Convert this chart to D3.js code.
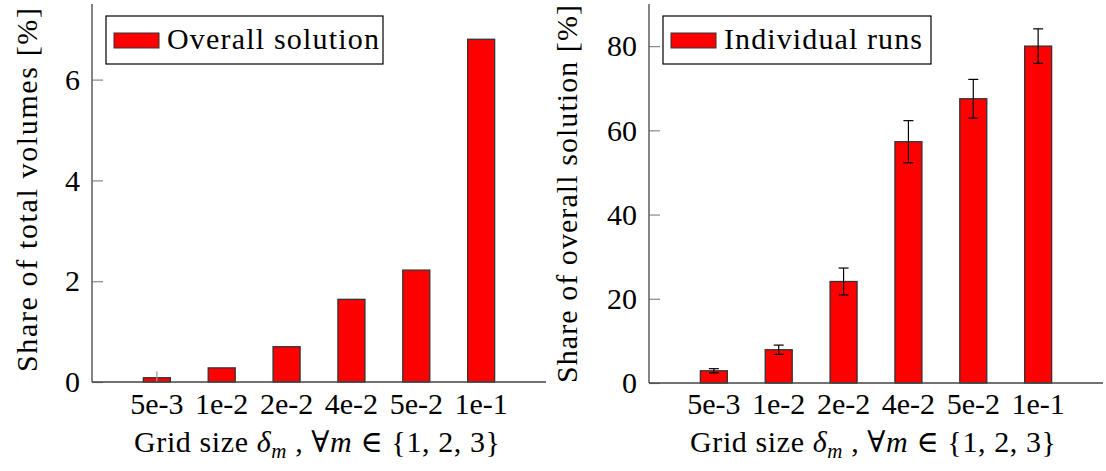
<!DOCTYPE html>
<html>
<head>
<meta charset="utf-8">
<script src="https://cdn.jsdelivr.net/npm/d3@7"></script>
<style>
  body { margin: 0; background: #fff; }
</style>
</head>
<body>
<div id="chart"></div>
<script>
// grid sizes on the x axis
const gridSizes = ["5e-3", "1e-2", "2e-2", "4e-2", "5e-2", "1e-1"];

// left panel: share of total volumes [%]
const volumeShare = [0.085, 0.28, 0.70, 1.64, 2.22, 6.80];
const volumeErr = [0.13, 0, 0, 0, 0, 0];
const volumeTicks = [0, 2, 4, 6];

// right panel: share of overall solution [%]
const runShare = [2.9, 7.9, 24.1, 57.3, 67.5, 80.0];
const runErr = [0.5, 1.1, 3.2, 5.0, 4.6, 4.1];
const runTicks = [0, 20, 40, 60, 80];

const W = 1106, H = 471;
const fs = "30px";
const serif = "'Liberation Serif', 'Times New Roman', Times, 'DejaVu Serif', serif";
const svg = d3.select("#chart").append("svg")
    .attr("width", W)
    .attr("height", H)
    .attr("font-family", serif);

function drawPanel(opt) {
    let g = svg.append("g");

    let x = d3.scaleLinear()
        .domain([0, gridSizes.length + 1])
        .range([opt.left, opt.right]);
    let y = d3.scaleLinear()
        .domain([0, opt.ymax])
        .range([opt.bottom, opt.top]);

    let barW = 27;

    // bars
    g.selectAll(".bar")
        .data(opt.values)
        .enter()
        .append("rect")
        .attr("class", "bar")
        .attr("x", (d, i) => x(i + 1) - barW / 2)
        .attr("y", d => y(d))
        .attr("width", barW)
        .attr("height", d => y(0) - y(d))
        .attr("fill", "#ff0000")
        .attr("stroke", "#333")
        .attr("stroke-width", 1.3);

    // error bars
    let eb = g.selectAll(".err")
        .data(opt.values.map((v, i) => ({v: v, e: opt.errors[i], i: i})).filter(d => d.e > 0))
        .enter()
        .append("g")
        .attr("class", "err")
        .attr("stroke", opt.errColor)
        .attr("stroke-width", 1.2);
    eb.append("line")
        .attr("x1", d => x(d.i + 1)).attr("x2", d => x(d.i + 1))
        .attr("y1", d => y(d.v + d.e)).attr("y2", d => y(Math.max(0, d.v - d.e)));
    if (opt.caps) {
        eb.append("line")
            .attr("x1", d => x(d.i + 1) - 5).attr("x2", d => x(d.i + 1) + 5)
            .attr("y1", d => y(d.v + d.e)).attr("y2", d => y(d.v + d.e));
        eb.append("line")
            .attr("x1", d => x(d.i + 1) - 5).attr("x2", d => x(d.i + 1) + 5)
            .attr("y1", d => y(d.v - d.e)).attr("y2", d => y(d.v - d.e));
    }

    // y axis, ticks pointing inward
    let yAxis = g.append("g")
        .attr("transform", "translate(" + opt.left + ",0)")
        .call(d3.axisRight(y).tickValues(opt.ticks).tickSize(11).tickFormat(""));
    yAxis.select(".domain").remove();
    yAxis.selectAll(".tick line").attr("stroke", "#888").attr("stroke-width", 1.2);

    g.selectAll(".ylab")
        .data(opt.ticks)
        .enter()
        .append("text")
        .attr("x", opt.left - 12)
        .attr("y", d => y(d))
        .attr("dy", "0.34em")
        .attr("text-anchor", "end")
        .style("font-family", serif)
        .style("font-size", fs)
        .text(d => d);

    // axis lines
    g.append("line")
        .attr("x1", opt.left).attr("x2", opt.left)
        .attr("y1", opt.top).attr("y2", opt.bottom)
        .attr("stroke", "#666").attr("stroke-width", 1.6);
    g.append("line")
        .attr("x1", opt.left).attr("x2", opt.right)
        .attr("y1", opt.bottom).attr("y2", opt.bottom)
        .attr("stroke", "#444").attr("stroke-width", 1.6);

    // x tick labels
    g.selectAll(".xlab")
        .data(gridSizes)
        .enter()
        .append("text")
        .attr("x", (d, i) => x(i + 1))
        .attr("y", 414)
        .attr("text-anchor", "middle")
        .style("font-family", serif)
        .style("font-size", fs)
        .text(d => d);

    // x title
    let xt = g.append("text")
        .attr("x", opt.xTitleX - 183)
        .attr("y", 452)
        .attr("textLength", 366)
        .attr("lengthAdjust", "spacing")
        .style("font-family", serif)
        .style("font-size", fs);
    xt.append("tspan").text("Grid size ");
    xt.append("tspan").style("font-style", "italic").text("δ");
    xt.append("tspan").style("font-style", "italic").style("font-size", "21px").attr("dy", 6).text("m");
    xt.append("tspan").attr("dy", -6).text(" , ∀");
    xt.append("tspan").style("font-style", "italic").text("m");
    xt.append("tspan").text(" ∈ {1, 2, 3}");

    // y title
    g.append("text")
        .attr("transform", "translate(" + opt.yTitleX + "," + opt.yTitleY + ") rotate(-90)")
        .attr("text-anchor", "middle")
        .attr("textLength", opt.yTitleLen)
        .attr("lengthAdjust", "spacing")
        .style("font-family", serif)
        .style("font-size", fs)
        .text(opt.yTitle);

    // legend
    let lg = g.append("g");
    lg.append("rect")
        .attr("x", opt.legX).attr("y", 16)
        .attr("width", opt.legW).attr("height", 48)
        .attr("fill", "#fff").attr("stroke", "#000").attr("stroke-width", 1.2);
    lg.append("rect")
        .attr("x", opt.legX + 8).attr("y", 33)
        .attr("width", 45).attr("height", 15)
        .attr("fill", "#ff0000").attr("stroke", "#333").attr("stroke-width", 1);
    lg.append("text")
        .attr("x", opt.legX + 61).attr("y", 49)
        .attr("textLength", opt.legTextLen)
        .attr("lengthAdjust", "spacing")
        .style("font-family", serif)
        .style("font-size", fs)
        .text(opt.legend);
}

drawPanel({
    left: 92, right: 546, top: 4, bottom: 382, ymax: 7.5,
    values: volumeShare, errors: volumeErr, ticks: volumeTicks,
    errColor: "#999", caps: false,
    legend: "Overall solution", legX: 106, legW: 277, legTextLen: 212,
    yTitle: "Share of total volumes [%]", yTitleX: 37, yTitleY: 190, yTitleLen: 364,
    xTitleX: 317
});

drawPanel({
    left: 649, right: 1103, top: 4, bottom: 383, ymax: 90,
    values: runShare, errors: runErr, ticks: runTicks,
    errColor: "#000", caps: true,
    legend: "Individual runs", legX: 663, legW: 268, legTextLen: 198,
    yTitle: "Share of overall solution [%]", yTitleX: 577, yTitleY: 194, yTitleLen: 378,
    xTitleX: 873
});
</script>
</body>
</html>
